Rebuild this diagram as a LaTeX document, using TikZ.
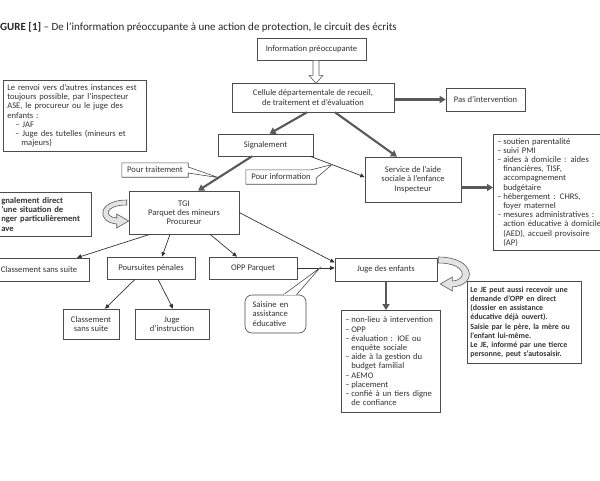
\documentclass[tikz,border=0pt]{standalone}
\usepackage{fontspec}
\setmainfont{Carlito}
\usetikzlibrary{arrows.meta,calc}
\newcommand\lidash{\makebox[6pt][l]{–}}
\newcommand\liind{\hspace*{6pt}}
\begin{document}
\begin{tikzpicture}[x=1pt,y=-1pt,
  font=\fontsize{8.6}{9.2}\selectfont,
  box/.style={draw=black!70, line width=0.6pt, fill=white, inner sep=2pt, align=center, text=black!80},
  lbox/.style={box, anchor=north west, align=left, inner xsep=4pt},
  plain/.style={inner sep=2pt, align=center, text=black!80},
  thickarr/.style={draw=black!65, line width=2.1pt, -{Triangle[length=6pt,width=7pt]}},
  thinarr/.style={draw=black!80, line width=0.7pt, -{Triangle[length=4.5pt,width=4pt]}},
  callout/.style={draw=black!70, line width=0.6pt, fill=white},
  hollow/.style={draw=black!65, line width=0.6pt, fill=white},
  band/.style={draw=black!65, line width=0.6pt, fill=gray!22},
]
\useasboundingbox (0,0) rectangle (600,480);
\clip (0,0) rectangle (600,480);

% title
\node[anchor=west, inner sep=0pt, font=\fontsize{11}{13}\selectfont, text=black!85] (title) at (0,27)
  {\textbf{GURE [1]} – De l’information préoccupante à une action de protection, le circuit des écrits};

% boxes
\node[box, minimum width=109pt, minimum height=22pt] (info) at (311.5,49) {Information préoccupante};
\node[box, minimum width=162pt, minimum height=29pt] (cellule) at (313,97.5) {Cellule départementale de recueil,\\de traitement et d’évaluation};
\node[box, minimum width=79pt, minimum height=23pt] (pas) at (485.5,99.5) {Pas d’intervention};
\node[lbox, text width=135pt, minimum height=71pt] (renvoi) at (3,80)
  {Le renvoi vers d’autres instances est\\
   toujours possible, par l’inspecteur\\
   ASE, le procureur ou le juge des\\
   enfants :\\
   \hspace*{8pt}– JAF\\
   \hspace*{8pt}– Juge des tutelles (mineurs et\\
   \hspace*{14pt}majeurs)};
\node[box, minimum width=95pt, minimum height=22pt] (signal) at (265.5,145) {Signalement};
\node[box, minimum width=96pt, minimum height=45pt] (service) at (413,179.5) {Service de l’aide\\sociale à l’enfance\\Inspecteur};
\node[lbox, text width=122pt, minimum height=116pt] (mesures) at (493,134)
  {\lidash soutien parentalité\\
   \lidash suivi PMI\\
   \lidash aides à domicile : aides\\
   \liind financières, TISF,\\
   \liind accompagnement\\
   \liind budgétaire\\
   \lidash hébergement : CHRS,\\
   \liind foyer maternel\\
   \lidash mesures administratives :\\
   \liind action éducative à domicile\\
   \liind (AED), accueil provisoire\\
   \liind (AP)};
\node[box, minimum width=110pt, minimum height=43pt] (tgi) at (184,212.5) {TGI\\Parquet des mineurs\\Procureur};
\node[lbox, text width=84pt, minimum height=44pt, inner xsep=6pt, font=\fontsize{8.6}{9.2}\selectfont\bfseries] (direct) at (-5,192)
  {gnalement direct\\’une situation de\\nger particulièrement\\ave};
\node[box, minimum width=100pt, minimum height=23pt] (class1) at (39,269.5) {Classement sans suite};
\node[box, minimum width=88pt, minimum height=22pt] (pours) at (151,268) {Poursuites pénales};
\node[box, minimum width=88pt, minimum height=22pt] (opp) at (253,268) {OPP Parquet};
\node[box, minimum width=102pt, minimum height=23pt] (je) at (386,269.5) {Juge des enfants};
\node[box, rounded corners=7pt, minimum width=61pt, minimum height=38pt, text width=46pt, align=left] (saisine) at (275.5,314) {Saisine en\\assistance\\éducative};
\node[box, minimum width=56pt, minimum height=30pt] (class2) at (91,324) {Classement\\sans suite};
\node[box, minimum width=74pt, minimum height=30pt] (jinstr) at (172,324) {Juge\\d’instruction};
\node[lbox, text width=91pt, minimum height=102pt] (jelist) at (341,310)
  {\lidash non-lieu à intervention\\
   \lidash OPP\\
   \lidash évaluation : IOE ou\\
   \liind enquête sociale\\
   \lidash aide à la gestion du\\
   \liind budget familial\\
   \lidash AEMO\\
   \lidash placement\\
   \lidash confié à un tiers digne\\
   \liind de confiance};
\node[lbox, text width=108pt, inner xsep=3pt, minimum height=82pt, font=\fontsize{7.9}{9.2}\selectfont\bfseries] (jenote) at (467,281)
  {Le JE peut aussi recevoir une\\
   demande d’OPP en direct\\
   (dossier en assistance\\
   éducative déjà ouvert).\\
   Saisie par le père, la mère ou\\
   l’enfant lui-même.\\
   Le JE, informé par une tierce\\
   personne, peut s’autosaisir.};

% hollow arrow info -> cellule
\coordinate (ha) at ($(info.south)+(4.5,0)$);
\draw[hollow] ($(ha)+(-3,0)$) -- ($(ha)+(3,0)$) -- ($(ha)+(3,15)$) -- ($(ha)+(7,15)$)
  -- ($(ha)+(0,23)$) -- ($(ha)+(-7,15)$) -- ($(ha)+(-3,15)$) -- cycle;

% thick connectors
\draw[thickarr] (cellule.east |- pas.west) -- (pas.west);
\draw[thickarr] ($(cellule.south)+(-6,0)$) -- ($(signal.north)+(4,0)$);
\draw[thickarr] ($(cellule.south)+(22,0)$) -- ($(service.north)+(-16,0)$);
\draw[thickarr] ($(signal.south)+(-13.5,0)$) -- coordinate[pos=0.62] (tptr) ($(tgi.north)+(14,0)$);
\coordinate (s1) at ($(service.east)+(0,8)$);
\draw[thickarr] (s1) -- (s1 -| mesures.west);
\draw[thickarr] (je.south) -- (je.south |- jelist.north);

% thin connectors
\draw[thinarr] ($(signal.south east)+(-3,0)$) -- coordinate[pos=0.4] (iptr) ($(service.west)+(0,-2.5)$);
\draw[thinarr] ($(tgi.south)+(-34,0)$) -- ($(class1.north)+(38,0)$);
\draw[thinarr] ($(tgi.south)+(-14,0)$) -- ($(pours.north)+(11,0)$);
\draw[thinarr] ($(tgi.south)+(26,0)$) -- ($(opp.north)+(-16,0)$);
\draw[thinarr] (tgi.east) -- ($(je.west)+(0,-7)$);
\draw[thinarr] (opp.east) -- coordinate[pos=0.6] (sptr) (opp.east -| je.west);
\draw[thinarr] ($(pours.south)+(-16,0)$) -- ($(class2.north)+(14,0)$);
\draw[thinarr] ($(pours.south)+(7,0)$) -- ($(jinstr.north)+(1,0)$);

% callouts
\node[plain, minimum width=66pt, minimum height=14pt] (trait) at (155,170) {};
\draw[callout] (trait.north west) -- (trait.north east) -- ($(trait.east)+(0,-3)$) -- (tptr)
  -- ($(trait.east)+(0,3)$) -- (trait.south east) -- (trait.south west) -- cycle;
\node[plain] at (trait) {Pour traitement};

\node[plain, minimum width=70pt, minimum height=14pt] (pinfo) at (281,177) {};
\draw[callout] (pinfo.north west) -- ($(pinfo.north east)+(-5,0)$) -- (iptr)
  -- ($(pinfo.east)+(0,1)$) -- (pinfo.south east) -- (pinfo.south west) -- cycle;
\node[plain] at (pinfo) {Pour information};

\filldraw[callout] ($(saisine.north)+(8,0)$) -- (sptr) -- ($(saisine.north)+(21,0)$);
\draw[white, line width=1.4pt] ($(saisine.north)+(8.8,0)$) -- ($(saisine.north)+(20.2,0)$);

% curved hollow arrows
\begin{scope}[shift={(tgi.west)}]
\draw[band] (-2,-12.5) .. controls (-31,-12.5) and (-33,9.5) .. (-12,11.5) -- (-12,15.5) -- (0,8.5)
  -- (-12,1.5) -- (-12,5.5) .. controls (-25,4.5) and (-24,-7.5) .. (-2,-7.5) -- cycle;
\end{scope}
\begin{scope}[shift={(je.east)}]
\draw[band] (1,-12.5) .. controls (38,-12.5) and (41,15.5) .. (15,17.5) -- (15,21.5) -- (3,14.5)
  -- (15,7.5) -- (15,11.5) .. controls (31,10.5) and (29,-6.5) .. (1,-6.5) -- cycle;
\end{scope}
\end{tikzpicture}
\end{document}
